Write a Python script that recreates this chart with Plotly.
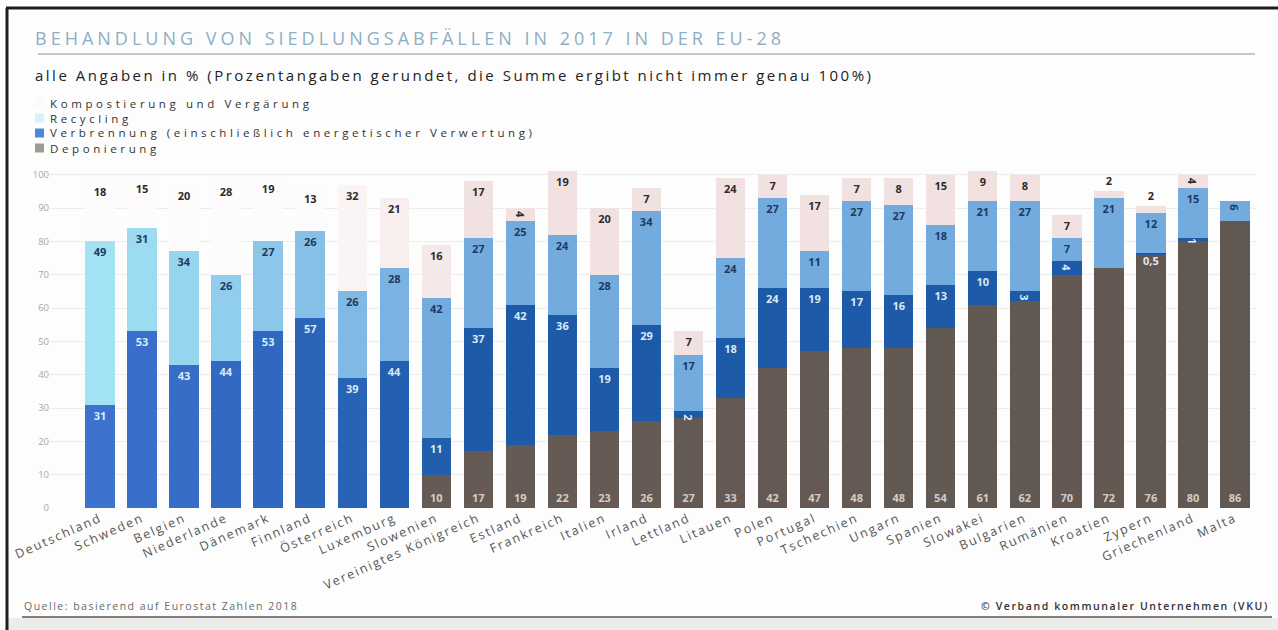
import plotly.graph_objects as go

# --- data (percent, rounded) ---
countries = [
    "Deutschland", "Schweden", "Belgien", "Niederlande", "Dänemark", "Finnland",
    "Österreich", "Luxemburg", "Slowenien", "Vereinigtes Königreich", "Estland",
    "Frankreich", "Italien", "Irland", "Lettland", "Litauen", "Polen", "Portugal",
    "Tschechien", "Ungarn", "Spanien", "Slowakei", "Bulgarien", "Rumänien",
    "Kroatien", "Zypern", "Griechenland", "Malta",
]
deponierung = [0, 0, 0, 0, 0, 0, 0, 0, 10, 17, 19, 22, 23, 26, 27, 33, 42, 47,
               48, 48, 54, 61, 62, 70, 72, 76, 80, 86]
verbrennung = [31, 53, 43, 44, 53, 57, 39, 44, 11, 37, 42, 36, 19, 29, 2, 18, 24,
               19, 17, 16, 13, 10, 3, 4, 0, 0.5, 1, 0]
recycling = [49, 31, 34, 26, 27, 26, 26, 28, 42, 27, 25, 24, 28, 34, 17, 24, 27,
             11, 27, 27, 18, 21, 27, 7, 21, 12, 15, 6]
kompostierung = [18, 15, 20, 28, 19, 13, 32, 21, 16, 17, 4, 19, 20, 7, 7, 24, 7,
                 17, 7, 8, 15, 9, 8, 7, 2, 2, 4, 0]
series_names = [
    "Kompostierung und Vergärung",
    "Recycling",
    "Verbrennung (einschließlich energetischer Verwertung)",
    "Deponierung",
]
y_ticks = [0, 10, 20, 30, 40, 50, 60, 70, 80, 90, 100]

# --- page geometry (pixels) ---
W, H = 1278, 630
L, R, T, B = 50, 1256, 168, 508      # y range 0..102 -> 100 sits at 175 px
FONT = "Open Sans"


def fx(p):
    return (p - L) / (R - L)


def fy(p):
    return (B - p) / (B - T)


def spaced(text, px):
    return '<span style="letter-spacing:%spx">%s</span>' % (px, text)


def hex2rgb(h):
    h = h.lstrip("#")
    return tuple(int(h[i:i + 2], 16) for i in (0, 2, 4))


def ramp(c1, c2, start, stop, n):
    a, b = hex2rgb(c1), hex2rgb(c2)
    out = []
    for i in range(n):
        t = min(max((i - start) / (stop - start), 0.0), 1.0)
        out.append("rgb(%d,%d,%d)" % tuple(round(a[k] + (b[k] - a[k]) * t) for k in range(3)))
    return out


def fmt(v):
    if v == 0:
        return ""
    return ("%g" % v).replace(".", ",")


n = len(countries)
col_dep = ramp("#675c55", "#625852", 0, 27, n)
col_verb = ramp("#3d72cf", "#1d5ba8", 0, 9, n)
col_rec = ramp("#a3e2f3", "#74abdf", 0, 8, n)
col_komp = ramp("#fdfbfb", "#f2e1e1", 5, 9, n)

fig = go.Figure()

label_font = dict(family=FONT, size=11, weight=700)


def stack(values, name, colors, anchor, text_color, positions=None):
    fig.add_trace(go.Bar(
        x=countries, y=values, name=name,
        marker=dict(color=colors, line=dict(width=0)),
        text=[fmt(v) for v in values],
        textposition=positions if positions else "inside",
        insidetextanchor=anchor, constraintext="none", cliponaxis=False,
        textfont=dict(color=text_color, **label_font),
        showlegend=False, hoverinfo="x+y+name",
    ))


stack(deponierung, series_names[3], col_dep, "start", "#d4cdc7")
stack(verbrennung, series_names[2], col_verb, "end", "#dbe9f8")
stack(recycling, series_names[1], col_rec, "end", "#1d3a5f")
# very thin top segments carry their label just above the bar
stack(kompostierung, series_names[0], col_komp, "end", "#2b2b2b",
      positions=["outside" if v <= 2 else "inside" for v in kompostierung])

shapes = []
annotations = []

# frame edges
shapes.append(dict(type="line", xref="paper", yref="paper",
                   x0=fx(6), x1=fx(W), y0=fy(8), y1=fy(8),
                   line=dict(color="#1e1e1e", width=3)))
shapes.append(dict(type="line", xref="paper", yref="paper",
                   x0=fx(7), x1=fx(7), y0=fy(8), y1=fy(H),
                   line=dict(color="#1e1e1e", width=3)))
# grey strip below the footer rule
shapes.append(dict(type="rect", xref="paper", yref="paper",
                   x0=fx(8), x1=fx(W), y0=fy(618), y1=fy(H),
                   fillcolor="#eeeceb", line=dict(width=0), layer="below"))
# rule under the title
shapes.append(dict(type="line", xref="paper", yref="paper",
                   x0=fx(38), x1=fx(1255), y0=fy(54), y1=fy(54),
                   line=dict(color="#b5b5b5", width=1.5)))
# footer rule
shapes.append(dict(type="line", xref="paper", yref="paper",
                   x0=fx(22), x1=fx(1272), y0=fy(617), y1=fy(617),
                   line=dict(color="#555555", width=1.5)))

# title and subtitle
annotations.append(dict(
    text=spaced("BEHANDLUNG VON SIEDLUNGSABFÄLLEN IN 2017 IN DER EU-28", 4),
    xref="paper", yref="paper", x=fx(33), y=fy(38), xanchor="left", yanchor="middle",
    showarrow=False, font=dict(family=FONT, size=18, color="#8eaec4")))
annotations.append(dict(
    text=spaced("alle Angaben in % (Prozentangaben gerundet, die Summe ergibt nicht immer genau 100%)", 2.5),
    xref="paper", yref="paper", x=fx(33), y=fy(75), xanchor="left", yanchor="middle",
    showarrow=False, font=dict(family=FONT, size=15, color="#222222")))

# legend block
swatch = ["#fcf9f9", "#d6f1f9", "#4f86d6", "#a19b95"]
for i, name in enumerate(series_names):
    yc = 103 + 15 * i
    shapes.append(dict(type="rect", xref="paper", yref="paper",
                       x0=fx(35), x1=fx(44), y0=fy(yc - 4.5), y1=fy(yc + 4.5),
                       fillcolor=swatch[i], line=dict(width=0)))
    annotations.append(dict(
        text=spaced(name, 3.6), xref="paper", yref="paper", x=fx(49), y=fy(yc),
        xanchor="left", yanchor="middle", showarrow=False, borderpad=0,
        font=dict(family=FONT, size=11.5, color="#333333")))

# footer texts
annotations.append(dict(
    text=spaced("Quelle: basierend auf Eurostat Zahlen 2018", 1.5),
    xref="paper", yref="paper", x=fx(22), y=fy(606), xanchor="left", yanchor="middle",
    showarrow=False, font=dict(family=FONT, size=10.5, color="#6a6a6a")))
annotations.append(dict(
    text=spaced("© Verband kommunaler Unternehmen (VKU)", 1.6),
    xref="paper", yref="paper", x=fx(1271), y=fy(606), xanchor="right", yanchor="middle",
    showarrow=False, font=dict(family=FONT, size=10.5, color="#333333", weight=600)))

fig.update_layout(
    width=W, height=H,
    margin=dict(l=L, r=W - R, t=T, b=H - B, pad=0),
    barmode="stack", bargap=0.3,
    paper_bgcolor="#fdfdfd", plot_bgcolor="#fdfdfd",
    showlegend=False,
    font=dict(family=FONT),
    shapes=shapes, annotations=annotations,
    xaxis=dict(
        range=[-1.19, 27.5], tickangle=-24, showgrid=False, zeroline=False,
        showline=False, ticks="",
        tickvals=countries, ticktext=[spaced(c, 1.8) for c in countries],
        tickfont=dict(family=FONT, size=12.5, color="#555555"),
    ),
    yaxis=dict(
        range=[0, 102], tickvals=y_ticks, showgrid=True, gridcolor="#ececec",
        gridwidth=1, zeroline=False, showline=False, ticks="",
        tickfont=dict(family=FONT, size=9.5, color="#a8a8a8"),
    ),
)

fig.write_html("out.html")
